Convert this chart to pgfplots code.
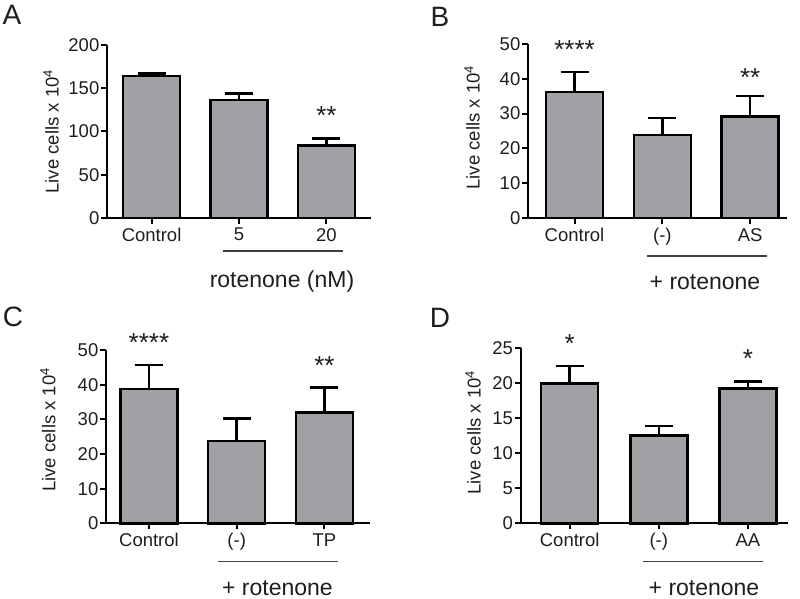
\documentclass[border=0pt]{standalone}
\usepackage{pgfplots}
\pgfplotsset{compat=1.18}
\usepackage{fontspec}
\setmainfont{Liberation Sans}
\definecolor{barg}{RGB}{160,160,165}
\definecolor{txt}{RGB}{30,30,30}
\newcommand{\tickfont}{\fontsize{18.5}{20}\selectfont}
\newcommand{\labfont}{\fontsize{18.5}{20}\selectfont}
\newcommand{\grpfont}{\fontsize{23}{25}\selectfont}
\newcommand{\panfont}{\fontsize{28}{30}\selectfont}
\newcommand{\starfont}{\fontsize{26}{28}\selectfont}
\tikzset{starnode/.style={font=\starfont, text=txt, anchor=north, inner sep=0pt}}
\pgfplotsset{
  mybar/.style={
    scale only axis, ybar, bar width=57pt, clip=false,
    axis x line*=bottom, axis y line*=left,
    axis line style={line width=2pt, black},
    xtick={0,1,2}, tick style={line width=2pt, black},
    tick align=outside, major tick length=6pt,
    ymin=0,
    /pgf/number format/assume math mode=true,
    tick label style={font=\tickfont, text=txt},
    yticklabel style={inner sep=1.5pt},
    xticklabel style={inner sep=2pt, yshift=-2pt},
    ylabel={Live cells x 10\textsuperscript{4}},
    ylabel style={font=\labfont, text=txt, anchor=center},
  },
  barplot/.style={fill=barg, draw=black, line width=2.5pt,
      error bars/.cd, y dir=plus, y explicit,
      error bar style={line width=2.5pt, black},
      error mark options={rotate=90, line width=2.5pt, mark size=14pt, black}},
}
\begin{document}
\begin{tikzpicture}
\useasboundingbox (0pt,0pt) rectangle (800pt,599pt);
% ---------- A ----------
\begin{axis}[mybar, at={(107pt,381pt)}, anchor=south west, width=264pt, height=173pt,
  xmin=-0.51, xmax=2.51, ymax=200, ytick={0,50,100,150,200},
  xticklabels={Control,5,20},
  ylabel style={at={(axis description cs:-0.212,0.5)}}]
\addplot[barplot] coordinates {(0,164.2) +- (0,3.1) (1,136.4) +- (0,7.8) (2,83.6) +- (0,8.5)};
\node[starnode] at (axis cs:2,128.7) {**};
\end{axis}
% ---------- B ----------
\begin{axis}[mybar, at={(528pt,381pt)}, anchor=south west, width=259pt, height=174pt,
  xmin=-0.53, xmax=2.42, ymax=50, ytick={0,10,20,30,40,50},
  xticklabels={Control,(-),AS},
  ylabel style={at={(axis description cs:-0.216,0.52)}}]
\addplot[barplot] coordinates {(0,36.2) +- (0,5.8) (1,23.8) +- (0,5.0) (2,29.1) +- (0,6.0)};
\node[starnode] at (axis cs:0,51.1) {****};
\node[starnode] at (axis cs:2,43.0) {**};
\end{axis}
% ---------- C ----------
\begin{axis}[mybar, at={(106pt,75.7pt)}, anchor=south west, width=264pt, height=173.3pt,
  xmin=-0.49, xmax=2.52, ymax=50, ytick={0,10,20,30,40,50},
  xticklabels={Control,(-),TP},
  ylabel style={at={(axis description cs:-0.22,0.54)}}]
\addplot[barplot] coordinates {(0,38.7) +- (0,7.0) (1,23.7) +- (0,6.5) (2,32.0) +- (0,7.2)};
\node[starnode] at (axis cs:0,54.8) {****};
\node[starnode] at (axis cs:2,48.1) {**};
\end{axis}
% ---------- D ----------
\begin{axis}[mybar, at={(520.7pt,75.7pt)}, anchor=south west, width=267.3pt, height=175.6pt,
  xmin=-0.55, xmax=2.45, ymax=25, ytick={0,5,10,15,20,25},
  xticklabels={Control,(-),AA},
  ylabel style={at={(axis description cs:-0.178,0.517)}}]
\addplot[barplot] coordinates {(0,19.9) +- (0,2.5) (1,12.5) +- (0,1.35) (2,19.2) +- (0,1.0)};
\node[starnode] at (axis cs:0,26.9) {*};
\node[starnode] at (axis cs:2,24.7) {*};
\end{axis}
% group brackets and labels
\draw[line width=1.3pt, black!75] (223pt,348pt) -- (343pt,348pt);
\node[font=\grpfont, text=txt] at (282pt,317pt) {rotenone (nM)};
\draw[line width=1.3pt, black!75] (647pt,343pt) -- (767pt,343pt);
\node[font=\grpfont, text=txt] at (705pt,317pt) {+ rotenone};
\draw[line width=1.3pt, black!75] (218pt,37.3pt) -- (338pt,37.3pt);
\node[font=\grpfont, text=txt] at (277.5pt,11pt) {+ rotenone};
\draw[line width=1.3pt, black!75] (643pt,37.3pt) -- (763pt,37.3pt);
\node[font=\grpfont, text=txt] at (704pt,11pt) {+ rotenone};
% panel letters
\node[font=\panfont, text=txt] at (12pt,584pt) {A};
\node[font=\panfont, text=txt] at (440pt,582pt) {B};
\node[font=\panfont, text=txt] at (13pt,282pt) {C};
\node[font=\panfont, text=txt] at (440pt,281.5pt) {D};
\end{tikzpicture}
\end{document}
